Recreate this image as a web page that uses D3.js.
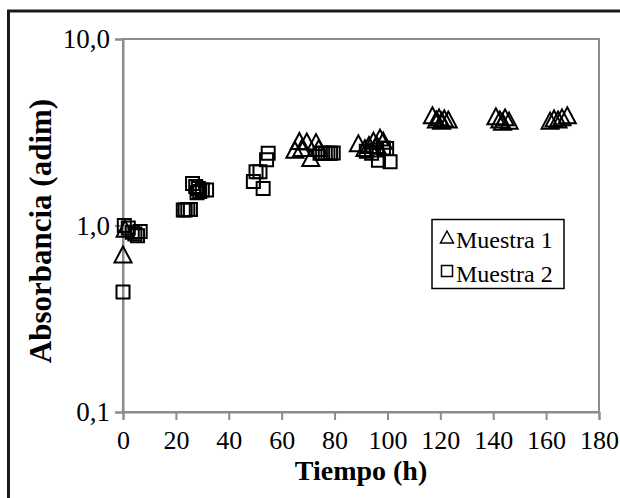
<!DOCTYPE html>
<html><head><meta charset="utf-8">
<script src="https://cdn.jsdelivr.net/npm/d3@7"></script>
<style>body{margin:0;background:#fff}svg{display:block}</style>
</head><body>
<script>
// ---- data ----
const m1x = [0, 0.8, 65, 66.7, 67.6, 69.5, 71, 73, 74, 89, 91.5, 93, 94.7, 96, 97.2, 98.4,
  117, 118.5, 119.5, 120.5, 121.5, 123, 141, 142.5, 143.5, 144.5, 146, 161.5, 163, 164.5, 166, 168];
const m1y = [0.70, 0.96, 2.55, 2.84, 2.6, 2.82, 2.3, 2.8, 2.6, 2.76, 2.6, 2.7, 2.85, 2.7, 2.96, 2.85,
  3.9, 3.7, 3.8, 3.65, 3.75, 3.7, 3.85, 3.7, 3.6, 3.8, 3.65, 3.65, 3.75, 3.7, 3.8, 3.9];
const m2x = [0, 0.5, 2, 3.5, 4.5, 5.5, 6.5, 22.8, 23.5, 24.5, 25.5, 26.3, 27.5, 28, 28.5, 29, 30, 31.6,
  49.3, 50.3, 51.8, 53, 54.3, 54.9, 74.5, 75.5, 76.5, 77.5, 78.5, 79.5, 92, 94, 95.9, 96.6, 98.5, 99.7, 101];
const m2y = [0.44, 1.0, 0.97, 0.92, 0.9, 0.88, 0.93, 1.21, 1.21, 1.22, 1.22, 1.68, 1.62, 1.5, 1.58, 1.52, 1.55, 1.55,
  1.72, 1.94, 1.94, 1.58, 2.25, 2.44, 2.44, 2.44, 2.44, 2.44, 2.44, 2.45, 2.5, 2.44, 2.54, 2.24, 2.6, 2.59, 2.2];
const xTicks = [0, 20, 40, 60, 80, 100, 120, 140, 160, 180];
const yTicks = [0.1, 1, 10];
const yTickLabels = ["0,1", "1,0", "10,0"];
const seriesNames = ["Muestra 1", "Muestra 2"];
const xTitle = "Tiempo (h)";
const yTitle = "Absorbancia (adim)";

// ---- layout ----
const W = 620, H = 498;
const L = 123, R = 599, T = 39, B = 412;
const font = "'Liberation Serif','Times New Roman',serif";
const axisColor = "#8c8c8c";

const svg = d3.select("body").append("svg").attr("width", W).attr("height", H);
svg.append("rect").attr("width", W).attr("height", H).attr("fill", "#fff");
// outer frame (extends beyond the image on right/bottom)
svg.append("rect").attr("x", 8.5).attr("y", 11).attr("width", W + 20).attr("height", H + 20)
  .attr("fill", "none").attr("stroke", "#1a1a1a").attr("stroke-width", 3);

const x = d3.scaleLinear().domain([0, 180]).range([L, R]);
const y = d3.scaleLog().domain([0.1, 10]).range([B, T]);

// plot border
svg.append("rect").attr("x", L).attr("y", T).attr("width", R - L).attr("height", B - T)
  .attr("fill", "none").attr("stroke", axisColor).attr("stroke-width", 2);

const xAxis = d3.axisBottom(x).tickValues(xTicks).tickSize(8).tickFormat(d3.format("d"));
const gx = svg.append("g").attr("transform", `translate(0,${B})`).call(xAxis);
gx.select(".domain").attr("stroke", axisColor).attr("stroke-width", 2);
gx.selectAll(".tick line").attr("stroke", axisColor).attr("stroke-width", 2);
gx.selectAll(".tick text").attr("font-family", font).attr("font-size", 26).attr("fill", "#000")
  .attr("y", 37).attr("dy", null);

const yAxis = d3.axisLeft(y).tickValues(yTicks).tickSize(8).tickFormat((d, i) => yTickLabels[i]);
const gy = svg.append("g").attr("transform", `translate(${L},0)`).call(yAxis);
gy.select(".domain").attr("stroke", axisColor).attr("stroke-width", 2);
gy.selectAll(".tick line").attr("stroke", axisColor).attr("stroke-width", 2);
gy.selectAll(".tick text").attr("font-family", font).attr("font-size", 27).attr("fill", "#000").attr("x", -13);

svg.append("text").attr("x", (L + R) / 2).attr("y", 480).attr("text-anchor", "middle")
  .attr("font-family", font).attr("font-weight", "bold").attr("font-size", 28).text(xTitle);
svg.append("text").attr("transform", `translate(51,231) rotate(-90)`).attr("text-anchor", "middle")
  .attr("font-family", font).attr("font-weight", "bold").attr("font-size", 31).text(yTitle);

function triPath(cx, cy, w, h) {
  return `M${cx},${cy - h / 2}L${cx + w / 2},${cy + h / 2}L${cx - w / 2},${cy + h / 2}Z`;
}
function sqPath(cx, cy, s) {
  return `M${cx - s / 2},${cy - s / 2}h${s}v${s}h${-s}Z`;
}

const m2 = m2x.map((v, i) => ({x: v, y: m2y[i]}));
const m1 = m1x.map((v, i) => ({x: v, y: m1y[i]}));

svg.append("g").selectAll("path").data(m2).join("path")
  .attr("d", d => sqPath(x(d.x), y(d.y), 13))
  .attr("fill", "none").attr("stroke", "#000").attr("stroke-width", 2);
svg.append("g").selectAll("path").data(m1).join("path")
  .attr("d", d => triPath(x(d.x), y(d.y), 17, 16))
  .attr("fill", "none").attr("stroke", "#000").attr("stroke-width", 2).attr("stroke-linejoin", "miter");

// legend
const lg = svg.append("g");
lg.append("rect").attr("x", 432).attr("y", 219.5).attr("width", 132).attr("height", 69)
  .attr("fill", "#fff").attr("stroke", "#000").attr("stroke-width", 1.5);
lg.append("path").attr("d", triPath(447, 237, 13, 12)).attr("fill", "none").attr("stroke", "#000").attr("stroke-width", 1.5);
lg.append("path").attr("d", sqPath(447, 271, 11)).attr("fill", "none").attr("stroke", "#000").attr("stroke-width", 1.5);
lg.append("text").attr("x", 456).attr("y", 248).attr("font-family", font).attr("font-size", 24).text(seriesNames[0]);
lg.append("text").attr("x", 456).attr("y", 282).attr("font-family", font).attr("font-size", 24).text(seriesNames[1]);
</script>
</body></html>
